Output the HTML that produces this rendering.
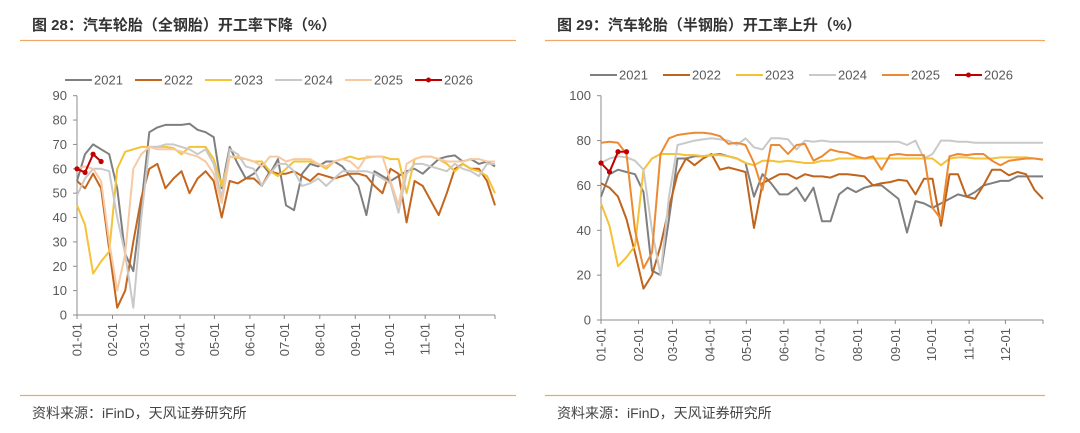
<!DOCTYPE html>
<html><head><meta charset="utf-8">
<style>
html,body{margin:0;padding:0;background:#fff;}
body{width:1080px;height:433px;overflow:hidden;font-family:"Liberation Sans","Noto Sans CJK SC",sans-serif;}
svg{display:block;}
</style></head>
<body>
<svg id="root" width="1080" height="433" viewBox="0 0 1080 433">
  <text x="32" y="30" font-size="15" font-weight="bold" fill="#333" font-family="Liberation Sans, Noto Sans CJK SC, sans-serif">图 28：汽车轮胎（全钢胎）开工率下降（%）</text>
  <line x1="20" y1="40.5" x2="516" y2="40.5" stroke="#f0a868" stroke-width="1.2"/>
  <text x="557" y="30" font-size="15" font-weight="bold" fill="#333" font-family="Liberation Sans, Noto Sans CJK SC, sans-serif">图 29：汽车轮胎（半钢胎）开工率上升（%）</text>
  <line x1="545" y1="40.5" x2="1045" y2="40.5" stroke="#f0a868" stroke-width="1.2"/>
  <line x1="20" y1="395.5" x2="516" y2="395.5" stroke="#f0a868" stroke-width="1.2"/>
  <line x1="545" y1="395.5" x2="1045" y2="395.5" stroke="#f0a868" stroke-width="1.2"/>
  <text x="32" y="418" font-size="14" fill="#444" font-family="Liberation Sans, Noto Sans CJK SC, sans-serif">资料来源：iFinD，天风证券研究所</text>
  <text x="557" y="418" font-size="14" fill="#444" font-family="Liberation Sans, Noto Sans CJK SC, sans-serif">资料来源：iFinD，天风证券研究所</text>
  <g id="left"></g>
  <g id="right"></g>
</svg>
<script>
const years = ['2021','2022','2023','2024','2025','2026'];
const monthLabels = ['01-01','02-01','03-01','04-01','05-01','06-01','07-01','08-01','09-01','10-01','11-01','12-01'];
const monthStartDays = [0,31,59,90,120,151,181,212,243,273,304,334];
const leftTicks = [0,10,20,30,40,50,60,70,80,90];
const rightTicks = [0,20,40,60,80,100];

const L2021 = [55,66,70,68,66,52,25,18,45,75,77,78,78,78,78.5,76,75,73,52,69,62,56,58,62,58,64,45,43,58,62,61,63,63,61,57,53,41,59,57,55,57,59,60,58,61,64,65,65.5,63,64,62,63,61];
const L2022 = [55,52,58,52,27,3,10,30,48,60,62,52,56,59,50,56,59,55,40,55,54,56,56,53,59,58,58,59,57,55,58,57,56,57,58,58,57,53,50,60,58,38,55,53,47,41,50,60,62,60,60,55,45];
const L2023 = [45,37,17,22,26,60,67,68,69,69,69,69,68.5,66,69,69,69,64,53,65,64.5,64,63,63,59,57,60,63,63,63,62,60,63,64,65,64,64.5,65,65,64,64,50,64,65,65,64,62,59,62,60,59,57,50];
const L2024 = [49,56,60,60,59,40,25,3,40,69,69,70,70,69,68,66,68,62,48,68,66,61,60,53,58,62,62,59,53,54,56,53,56,59,59,59,59,58,56,54,42,58,62,62,61,60,59,62,60,59,57,62,62];
const L2025 = [60,61,60,55,30,10,25,60,66,69,68,68,68,67,66,65,63,58,46,65,65,64,63,61,65,65,63,64,64,64,62,61,63,64,63,60,65,65,65,55,45,62,64,65,65,64,63,63,63,64,64,63,63];
const L2026 = [60,58.5,66,63];

const R2021 = [55,65,67,66,65,57,22,20,45,72,72,73,73,73.5,74,73,72,70,55,65,61,56,56,59,53,59,44,44,56,59,57,59,60,60,57,54,39,53,52,50,52,54,56,55,57,60,61,62,62,64,64,64,64];
const R2022 = [61,59,55,45,30,14,20,33,50,65,72,69,72,74,67,68,67,66,41,61,63,65,65,63,65,64,64,63.5,65,65,64.5,64,60,61,61.5,62.5,62,56,63,63,42,65,65,55,54,60,67,67,64.5,66,65,58,54];
const R2023 = [52,42,24,28,33,67,72,74,74,74,73.5,73.5,73,73.5,73.5,73,72,70,69,71,71,70.5,71,70.5,70,70,71,71,72,72,72,72,72,72,72,72,72,72,72,72,69,72,72.5,72.5,72,72,72,72.5,72.5,72.5,72.5,72,71.5];
const R2024 = [70,72,73,72.5,71,67,40,20,55,78,79,80,80.5,81,80.5,80,78,81,77,76,81,81,80.5,76,80,79.5,80,79.5,79.5,79.5,79.5,79.5,79.5,79.5,79.5,79.5,78,80,72,74,80,80,79.5,79.5,79,79,79,79,79,79,79,79,79];
const R2025 = [79,79.5,79,74,40,23,30,74,81,82.5,83,83.5,83.5,83,82,78.5,79,78,70,58,78,78,74,78,78.5,71,73,76,75,74.5,73,72,73,67,73.5,74,73.5,73.5,73.5,50,45,73,74,73.5,74,74,71,69,71,71.5,72,72,71.5];
const R2026 = [70,66,75,75];

const NS='http://www.w3.org/2000/svg';
function mk(tag,attrs,parent){const e=document.createElementNS(NS,tag);for(const k in attrs)e.setAttribute(k,attrs[k]);parent.appendChild(e);return e;}

function drawChart(g, cfg){
  const {x0,x1,y0,yTop,ymax,ticks,series,colors,legendX,legendStep,legendY} = cfg;
  const xScale = i => x0 + i*(x1-x0)/52;
  const xDay = d => x0 + d/365*(x1-x0);
  const yScale = v => y0 - v/ymax*(y0-yTop);
  // y axis
  const ya=mk('line',{x1:x0,y1:yTop,x2:x0,y2:y0,stroke:'#8c8c8c','stroke-width':1},g);
  
  
  ticks.forEach(t=>{
    const tl=mk('line',{x1:x0-4,y1:yScale(t),x2:x0,y2:yScale(t),stroke:'#8c8c8c'},g);
    
    
    const tx=mk('text',{x:x0-10,y:yScale(t)+4.5,'text-anchor':'end','font-size':13,fill:'#595959'},g);
    tx.textContent=t;
    
    
  });
  const xa=mk('line',{x1:x0,y1:y0,x2:x1,y2:y0,stroke:'#8c8c8c','stroke-width':1},g);
  
  
  monthStartDays.concat([365]).forEach((d,k)=>{
    const tl=mk('line',{x1:xDay(d),y1:y0,x2:xDay(d),y2:y0+4,stroke:'#8c8c8c'},g);
    
    
    if(k<monthLabels.length){
      const tx=mk('text',{x:0,y:0,'text-anchor':'end','font-size':13,fill:'#595959',transform:`translate(${xDay(d)+4.5},${y0+8}) rotate(-90)`},g);
      tx.textContent=monthLabels[k];
      
      
    }
  });
  series.forEach((s,si)=>{
    const pts=s.map((v,i)=>xScale(i).toFixed(1)+','+yScale(v).toFixed(1)).join(' ');
    const pl=mk('polyline',{points:pts,fill:'none',stroke:colors[si],'stroke-width':2,'stroke-linejoin':'round'},g);
    
    
    if(si===5){
      s.forEach((v,i)=>{
        const c=mk('circle',{cx:xScale(i),cy:yScale(v),r:2.6,fill:colors[si]},g);
        
        
      });
    }
  });
  years.forEach((y,i)=>{
    const lx=legendX+i*legendStep;
    const lg=mk('g',{},g);
    
    
    mk('line',{x1:lx,y1:legendY,x2:lx+27,y2:legendY,stroke:colors[i],'stroke-width':2},lg);
    if(i===5) mk('circle',{cx:lx+13.5,cy:legendY,r:2.5,fill:colors[i]},lg);
    const t=mk('text',{x:lx+29,y:legendY+4.5,'font-size':13,fill:'#595959'},lg);
    t.textContent=y;
  });
}

drawChart(document.getElementById('left'),{x0:77,x1:495,y0:315,yTop:95.7,ymax:90,ticks:leftTicks,
  series:[L2021,L2022,L2023,L2024,L2025,L2026],
  colors:['#7f7f7f','#c4661d','#f4c338','#c9c9c9','#f7c9a3','#c00000'],
  legendX:65,legendStep:70,legendY:80});
drawChart(document.getElementById('right'),{x0:601,x1:1043,y0:320,yTop:95.7,ymax:100,ticks:rightTicks,
  series:[R2021,R2022,R2023,R2024,R2025,R2026],
  colors:['#7f7f7f','#c0641c','#f5c136','#c9c9c9','#ec8a33','#c00000'],
  legendX:590,legendStep:73,legendY:75});
</script>
</body></html>
